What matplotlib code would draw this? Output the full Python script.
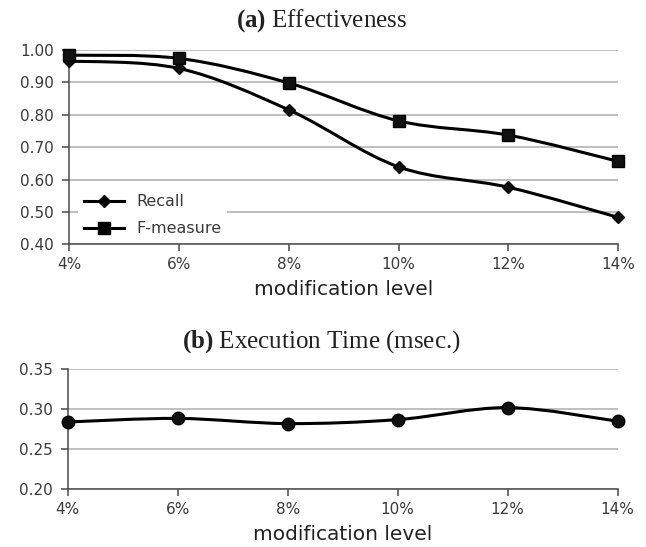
import matplotlib
matplotlib.use('Agg')
import matplotlib.pyplot as plt
from matplotlib.path import Path
from matplotlib.patches import PathPatch
from matplotlib.lines import Line2D

# data
levels = ['4%', '6%', '8%', '10%', '12%', '14%']
recall = [0.966, 0.943, 0.815, 0.639, 0.576, 0.483]
f_measure = [0.984, 0.974, 0.898, 0.781, 0.737, 0.656]
exec_time = [0.284, 0.2885, 0.282, 0.287, 0.302, 0.285]

plt.rcParams['font.family'] = 'DejaVu Sans'
plt.rcParams['mathtext.fontset'] = 'custom'
plt.rcParams['mathtext.rm'] = 'Liberation Serif'
plt.rcParams['mathtext.bf'] = 'Liberation Serif:bold'

TXT = '#3a3a3a'
AXC = '#4a4a4a'
GRID = '#b4b4b4'


def smooth_path(x, y):
    # Excel style smoothed line: cubic bezier through each point
    n = len(x)
    verts = [(x[0], y[0])]
    codes = [Path.MOVETO]
    for i in range(n - 1):
        a = max(i - 1, 0)
        b = min(i + 2, n - 1)
        c1 = (x[i] + (x[i + 1] - x[a]) / 6, y[i] + (y[i + 1] - y[a]) / 6)
        c2 = (x[i + 1] - (x[b] - x[i]) / 6, y[i + 1] - (y[b] - y[i]) / 6)
        verts += [c1, c2, (x[i + 1], y[i + 1])]
        codes += [Path.CURVE4] * 3
    return Path(verts, codes)


def style_axes(ax, yticks, fmt):
    ax.set_xlim(0, len(levels) - 1)
    ax.set_xticks(range(len(levels)))
    ax.set_xticklabels(levels)
    ax.set_yticks(yticks)
    ax.set_yticklabels([fmt % v for v in yticks])
    ax.set_ylim(yticks[0], yticks[-1])
    for s in ['top', 'right']:
        ax.spines[s].set_visible(False)
    for s in ['left', 'bottom']:
        ax.spines[s].set_color(AXC)
        ax.spines[s].set_linewidth(1.1)
    ax.tick_params(axis='both', colors=AXC, labelcolor=TXT, labelsize=11,
                   length=5, width=1.1, direction='out')
    ax.tick_params(axis='y', pad=6)
    ax.tick_params(axis='x', pad=4)
    ax.grid(axis='y', color=GRID, linewidth=1.2)
    ax.set_axisbelow(True)
    ax.set_xlabel('modification level', fontsize=14.5, color='#222222', labelpad=6)


def draw_series(ax, vals, marker, ms):
    xs = list(range(len(vals)))
    ax.add_patch(PathPatch(smooth_path(xs, vals), facecolor='none',
                           edgecolor='black', linewidth=2.2, zorder=3,
                           clip_on=False))
    ax.plot(xs, vals, linestyle='none', marker=marker, markersize=ms,
            color='#111111', markeredgecolor='black', zorder=4, clip_on=False)


fig = plt.figure(figsize=(6.46, 5.47), dpi=100)

ax1 = fig.add_axes([0.1073, 0.5534, 0.8498, 0.3552])
style_axes(ax1, [0.40, 0.50, 0.60, 0.70, 0.80, 0.90, 1.00], '%.2f')
draw_series(ax1, recall, 'D', 6)
draw_series(ax1, f_measure, 's', 9)

handles = [Line2D([], [], color='black', linewidth=2.2, marker='D', markersize=6),
           Line2D([], [], color='black', linewidth=2.2, marker='s', markersize=9)]
leg = ax1.legend(handles, ['Recall', 'F-measure'], loc='lower left',
                 bbox_to_anchor=(0.016, 0.012), borderaxespad=0, fontsize=11.5,
                 handlelength=2.5, handletextpad=0.8, labelspacing=0.75,
                 frameon=True, fancybox=False, framealpha=1,
                 edgecolor='none', facecolor='white', borderpad=0.35)
for t in leg.get_texts():
    t.set_color(TXT)

ax2 = fig.add_axes([0.1048, 0.1060, 0.8514, 0.2188])
style_axes(ax2, [0.20, 0.25, 0.30, 0.35], '%.2f')
draw_series(ax2, exec_time, 'o', 9)

fig.text(0.498, 1 - 21 / 547, r'$\mathbf{(a)}$ Effectiveness', ha='center',
         va='center', fontsize=18, family='Liberation Serif', color='#222222')
fig.text(0.498, 1 - 342 / 547, r'$\mathbf{(b)}$ Execution Time (msec.)',
         ha='center', va='center', fontsize=18, family='Liberation Serif',
         color='#222222')

fig.savefig('out.png', dpi=100)
